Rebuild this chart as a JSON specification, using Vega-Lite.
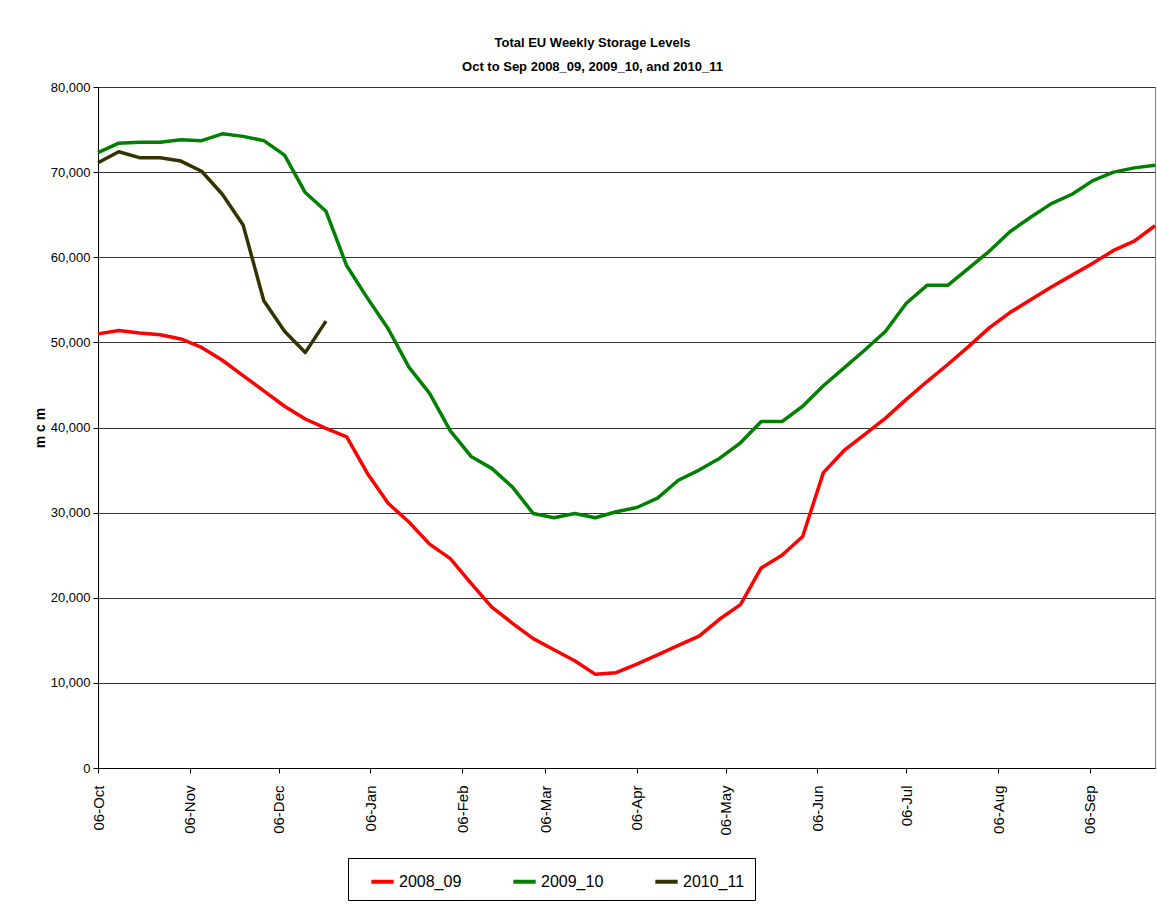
{
  "$schema": "https://vega.github.io/schema/vega-lite/v6.json",
  "width": 1057,
  "height": 681,
  "autosize": "none",
  "padding": {"left": 98, "top": 87, "right": 2, "bottom": 151},
  "background": "white",
  "title": {
    "text": ["Total EU Weekly Storage Levels", "Oct to Sep 2008_09, 2009_10, and 2010_11"],
    "anchor": "middle",
    "frame": "group",
    "dx": -34,
    "offset": 7,
    "font": "Liberation Sans",
    "fontSize": 13,
    "fontWeight": "bold",
    "lineHeight": 24,
    "color": "black"
  },
  "data": {
    "values": [
      {"date": "2008-10-06", "2008_09": 51000, "2009_10": 72300, "2010_11": 71100},
      {"date": "2008-10-13", "2008_09": 51400, "2009_10": 73400, "2010_11": 72400},
      {"date": "2008-10-20", "2008_09": 51100, "2009_10": 73500, "2010_11": 71700},
      {"date": "2008-10-27", "2008_09": 50900, "2009_10": 73500, "2010_11": 71700},
      {"date": "2008-11-03", "2008_09": 50400, "2009_10": 73800, "2010_11": 71300},
      {"date": "2008-11-10", "2008_09": 49400, "2009_10": 73700, "2010_11": 70100},
      {"date": "2008-11-17", "2008_09": 47900, "2009_10": 74500, "2010_11": 67400},
      {"date": "2008-11-24", "2008_09": 46100, "2009_10": 74200, "2010_11": 63800},
      {"date": "2008-12-01", "2008_09": 44300, "2009_10": 73700, "2010_11": 54900},
      {"date": "2008-12-08", "2008_09": 42500, "2009_10": 72000, "2010_11": 51300},
      {"date": "2008-12-15", "2008_09": 41000, "2009_10": 67600, "2010_11": 48800},
      {"date": "2008-12-22", "2008_09": 39900, "2009_10": 65400, "2010_11": 52500},
      {"date": "2008-12-29", "2008_09": 38900, "2009_10": 59000},
      {"date": "2009-01-05", "2008_09": 34600, "2009_10": 55200},
      {"date": "2009-01-12", "2008_09": 31100, "2009_10": 51600},
      {"date": "2009-01-19", "2008_09": 28900, "2009_10": 47100},
      {"date": "2009-01-26", "2008_09": 26300, "2009_10": 44000},
      {"date": "2009-02-02", "2008_09": 24600, "2009_10": 39600},
      {"date": "2009-02-09", "2008_09": 21700, "2009_10": 36600},
      {"date": "2009-02-16", "2008_09": 18900, "2009_10": 35200},
      {"date": "2009-02-23", "2008_09": 17000, "2009_10": 33000},
      {"date": "2009-03-02", "2008_09": 15200, "2009_10": 29900},
      {"date": "2009-03-09", "2008_09": 13900, "2009_10": 29400},
      {"date": "2009-03-16", "2008_09": 12600, "2009_10": 29900},
      {"date": "2009-03-23", "2008_09": 11000, "2009_10": 29400},
      {"date": "2009-03-30", "2008_09": 11200, "2009_10": 30100},
      {"date": "2009-04-06", "2008_09": 12200, "2009_10": 30600},
      {"date": "2009-04-13", "2008_09": 13300, "2009_10": 31700},
      {"date": "2009-04-20", "2008_09": 14400, "2009_10": 33800},
      {"date": "2009-04-27", "2008_09": 15500, "2009_10": 35000},
      {"date": "2009-05-04", "2008_09": 17500, "2009_10": 36400},
      {"date": "2009-05-11", "2008_09": 19200, "2009_10": 38200},
      {"date": "2009-05-18", "2008_09": 23500, "2009_10": 40700},
      {"date": "2009-05-25", "2008_09": 25000, "2009_10": 40700},
      {"date": "2009-06-01", "2008_09": 27200, "2009_10": 42500},
      {"date": "2009-06-08", "2008_09": 34700, "2009_10": 44900},
      {"date": "2009-06-15", "2008_09": 37300, "2009_10": 47000},
      {"date": "2009-06-22", "2008_09": 39200, "2009_10": 49100},
      {"date": "2009-06-29", "2008_09": 41100, "2009_10": 51300},
      {"date": "2009-07-06", "2008_09": 43300, "2009_10": 54600},
      {"date": "2009-07-13", "2008_09": 45400, "2009_10": 56700},
      {"date": "2009-07-20", "2008_09": 47400, "2009_10": 56700},
      {"date": "2009-07-27", "2008_09": 49500, "2009_10": 58700},
      {"date": "2009-08-03", "2008_09": 51700, "2009_10": 60700},
      {"date": "2009-08-10", "2008_09": 53500, "2009_10": 63000},
      {"date": "2009-08-17", "2008_09": 55000, "2009_10": 64700},
      {"date": "2009-08-24", "2008_09": 56500, "2009_10": 66300},
      {"date": "2009-08-31", "2008_09": 57900, "2009_10": 67400},
      {"date": "2009-09-07", "2008_09": 59300, "2009_10": 69000},
      {"date": "2009-09-14", "2008_09": 60800, "2009_10": 70000},
      {"date": "2009-09-21", "2008_09": 61900, "2009_10": 70500},
      {"date": "2009-09-28", "2008_09": 63700, "2009_10": 70800}
    ]
  },
  "transform": [
    {"fold": ["2008_09", "2009_10", "2010_11"], "as": ["series", "value"]}
  ],
  "mark": {"type": "line", "strokeWidth": 3.5, "strokeJoin": "round"},
  "encoding": {
    "x": {
      "field": "date",
      "type": "temporal",
      "scale": {
        "type": "utc",
        "domain": [
          {"year": 2008, "month": 10, "date": 6, "utc": true},
          {"year": 2009, "month": 9, "date": 28, "utc": true}
        ]
      },
      "axis": {
        "title": null,
        "format": "%d-%b",
        "values": [
          {"year": 2008, "month": 10, "date": 6, "utc": true},
          {"year": 2008, "month": 11, "date": 6, "utc": true},
          {"year": 2008, "month": 12, "date": 6, "utc": true},
          {"year": 2009, "month": 1, "date": 6, "utc": true},
          {"year": 2009, "month": 2, "date": 6, "utc": true},
          {"year": 2009, "month": 3, "date": 6, "utc": true},
          {"year": 2009, "month": 4, "date": 6, "utc": true},
          {"year": 2009, "month": 5, "date": 6, "utc": true},
          {"year": 2009, "month": 6, "date": 6, "utc": true},
          {"year": 2009, "month": 7, "date": 6, "utc": true},
          {"year": 2009, "month": 8, "date": 6, "utc": true},
          {"year": 2009, "month": 9, "date": 6, "utc": true}
        ],
        "labelAngle": 270,
        "labelAlign": "right",
        "labelBaseline": "middle",
        "labelPadding": 12,
        "labelFont": "Liberation Sans",
        "labelFontSize": 15,
        "labelColor": "black",
        "tickSize": 5,
        "tickColor": "black",
        "domainColor": "black",
        "grid": false,
        "labelOverlap": false,
        "labelFlush": false
      }
    },
    "y": {
      "field": "value",
      "type": "quantitative",
      "scale": {"domain": [0, 80000], "nice": false},
      "axis": {
        "title": "m c m",
        "titleFont": "Liberation Sans",
        "titleFontSize": 14,
        "titleFontWeight": "bold",
        "titleColor": "black",
        "titlePadding": 3,
        "values": [0, 10000, 20000, 30000, 40000, 50000, 60000, 70000, 80000],
        "format": ",d",
        "labelFont": "Liberation Sans",
        "labelFontSize": 13,
        "labelColor": "black",
        "labelPadding": 3,
        "tickSize": 5,
        "tickColor": "black",
        "domainColor": "black",
        "grid": true,
        "gridColor": "#333333",
        "gridWidth": 1
      }
    },
    "color": {
      "field": "series",
      "type": "nominal",
      "scale": {
        "domain": ["2008_09", "2009_10", "2010_11"],
        "range": ["#FF0000", "#008000", "#333300"]
      },
      "legend": {
        "title": null,
        "orient": "none",
        "legendX": 250,
        "legendY": 771,
        "direction": "horizontal",
        "strokeColor": "black",
        "fillColor": "white",
        "padding": 10,
        "symbolType": "stroke",
        "symbolStrokeWidth": 4,
        "symbolSize": 500,
        "symbolOffset": 11,
        "labelFont": "Liberation Sans",
        "labelFontSize": 16,
        "labelColor": "black",
        "labelOffset": 3,
        "columnPadding": 38
      }
    }
  },
  "config": {
    "view": {"stroke": "#808080", "strokeWidth": 1}
  }
}
